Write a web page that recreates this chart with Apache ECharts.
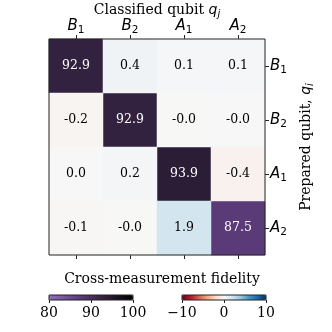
<!DOCTYPE html>
<html lang="en" style="height: 100%;width: 100%">
<head>
    <meta charset="utf-8">
</head>
<body style="height: 100%;width: 100%; margin: 0; background: #fff">
<div id="container" style="height: 332px;width: 332px;"></div>
<script type="text/javascript" src="https://cdn.jsdelivr.net/npm/echarts@6/dist/echarts.min.js"></script>
<script type="text/javascript">
    // qubit labels: [letter, subscript]
    var qubits = [['B', '1'], ['B', '2'], ['A', '1'], ['A', '2']];
    // rows = prepared qubit, cols = classified qubit
    var fidelity = [
        [92.9, 0.4, 0.1, 0.1],
        [-0.2, 92.9, -0.03, -0.02],
        [0.0, 0.2, 93.9, -0.4],
        [-0.1, -0.03, 1.9, 87.5]
    ];
    var diagTicks = [80, 90, 100];
    var crossTicks = [-10, 0, 10];

    var serif = 'DejaVu Serif';
    var cats = qubits.map(function (q) { return q[0] + q[1]; });

    var diagData = [], crossData = [];
    for (var i = 0; i < fidelity.length; i++) {
        for (var j = 0; j < fidelity[i].length; j++) {
            if (i === j) diagData.push([j, i, fidelity[i][j]]);
            else crossData.push([j, i, fidelity[i][j]]);
        }
    }

    function qubitLabel(v) {
        return '{i|' + v.charAt(0) + '}{s|' + v.charAt(1) + '}';
    }
    var qubitRich = {
        i: {fontFamily: 'DejaVu Sans', fontStyle: 'italic', fontSize: 15, color: '#000'},
        s: {fontFamily: 'DejaVu Sans', fontSize: 10.5, color: '#000', padding: [8, 0, 0, 0]}
    };
    var nameRich = {
        t: {fontFamily: serif, fontSize: 14, color: '#000'},
        q: {fontFamily: 'DejaVu Sans', fontStyle: 'italic', fontSize: 14, color: '#000'},
        j: {fontFamily: 'DejaVu Sans', fontStyle: 'italic', fontSize: 10, color: '#000', padding: [7, 0, 0, 0]}
    };

    function minusFmt(v) {
        return String(v).replace('-', '\u2212');
    }

    var dom = document.getElementById('container');
    var myChart = echarts.init(dom, null, {renderer: 'canvas'});

    var gridBase = {show: true, borderColor: '#222', borderWidth: 1, backgroundColor: 'transparent',
        z: 5, containLabel: false, outerBoundsMode: 'none'};

    var option = {
        backgroundColor: '#fff',
        animation: false,
        title: {
            text: 'Cross-measurement fidelity',
            left: 157,
            textAlign: 'center',
            top: 267,
            textStyle: {fontFamily: serif, fontSize: 14, fontWeight: 'normal', color: '#000'}
        },
        grid: [
            Object.assign({left: 49, top: 39, width: 216, height: 216}, gridBase),
            Object.assign({left: 49, top: 295, width: 84, height: 5}, gridBase),
            Object.assign({left: 182, top: 295, width: 84, height: 5}, gridBase)
        ],
        xAxis: [
            {
                type: 'category', data: cats, position: 'top', gridIndex: 0,
                name: '{t|Classified qubit }{q|q}{j|j}',
                nameLocation: 'middle', nameGap: 20, nameMoveOverlap: false,
                nameTextStyle: {rich: nameRich},
                axisLine: {show: false},
                axisTick: {show: true, alignWithLabel: true, length: 4, lineStyle: {color: '#222'}},
                axisLabel: {interval: 0, formatter: qubitLabel, rich: qubitRich, margin: 3},
                splitLine: {show: false}
            },
            {
                type: 'category', data: cats, position: 'bottom', gridIndex: 0,
                axisLine: {show: false},
                axisTick: {show: true, alignWithLabel: true, interval: 0, length: 4, lineStyle: {color: '#222'}},
                axisLabel: {show: false}
            },
            {
                type: 'value', gridIndex: 1, min: 80, max: 100, interval: 10, position: 'bottom',
                axisLine: {show: false}, splitLine: {show: false},
                axisTick: {show: true, length: 3, lineStyle: {color: '#222'}},
                axisLabel: {fontFamily: serif, fontSize: 14, color: '#000', margin: 6}
            },
            {
                type: 'value', gridIndex: 2, min: -10, max: 10, interval: 10, position: 'bottom',
                axisLine: {show: false}, splitLine: {show: false},
                axisTick: {show: true, length: 3, lineStyle: {color: '#222'}},
                axisLabel: {fontFamily: serif, fontSize: 14, color: '#000', margin: 6, formatter: minusFmt}
            }
        ],
        yAxis: [
            {
                type: 'category', data: cats, inverse: true, position: 'right', gridIndex: 0,
                name: '{t|Prepared qubit, }{q|q}{j|i}',
                nameLocation: 'middle', nameGap: 33, nameRotate: 90, nameMoveOverlap: false,
                nameTextStyle: {rich: nameRich},
                axisLine: {show: false},
                axisTick: {show: true, alignWithLabel: true, interval: 0, length: 4, lineStyle: {color: '#222'}},
                axisLabel: {interval: 0, formatter: qubitLabel, rich: qubitRich, margin: 5},
                splitLine: {show: false}
            },
            {type: 'value', gridIndex: 1, show: false, min: 0, max: 1},
            {type: 'value', gridIndex: 2, show: false, min: 0, max: 1}
        ],
        visualMap: [
            {
                type: 'continuous', seriesIndex: 0, min: 80, max: 100,
                orient: 'horizontal', left: 49, top: 295, padding: 0,
                itemWidth: 5, itemHeight: 84, calculable: false, hoverLink: false,
                text: null, showLabel: false,
                inRange: {color: ['#8e6fbb', '#613f80', '#30203b', '#000000']}
            },
            {
                type: 'continuous', seriesIndex: 1, min: -10, max: 10,
                orient: 'horizontal', left: 182, top: 295, padding: 0,
                itemWidth: 5, itemHeight: 84, calculable: false, hoverLink: false,
                text: null, showLabel: false,
                inRange: {color: ['#67001f', '#b2182b', '#d6604d', '#f4a582', '#fddbc7', '#f7f7f7',
                    '#d1e5f0', '#92c5de', '#4393c3', '#2166ac', '#053061']}
            }
        ],
        series: [
            {
                type: 'heatmap', data: diagData, xAxisIndex: 0, yAxisIndex: 0,
                label: {
                    show: true, fontFamily: serif, fontSize: 12.5, color: '#fff',
                    formatter: function (p) { return p.value[2].toFixed(1); }
                }
            },
            {
                type: 'heatmap', data: crossData, xAxisIndex: 0, yAxisIndex: 0,
                label: {
                    show: true, fontFamily: serif, fontSize: 12.5, color: '#000',
                    formatter: function (p) { return p.value[2].toFixed(1); }
                }
            }
        ]
    };
    myChart.setOption(option);
</script>
</body>
</html>
